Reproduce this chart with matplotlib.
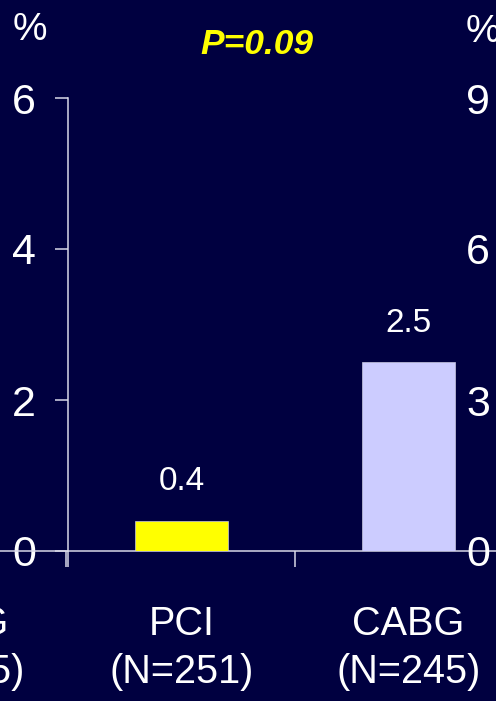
import matplotlib
matplotlib.use("Agg")
import matplotlib.pyplot as plt

# ---- data ----
groups = ["PCI", "CABG"]
group_n = ["(N=251)", "(N=245)"]
rates = [0.4, 2.5]
bar_colors = ["#FFFF00", "#CCCCFF"]
y_ticks = [0, 2, 4, 6]
right_ticks = [0, 3, 6, 9]
p_text = "P=0.09"
left_group = "CABG"
left_n = "(N=245)"

plt.rcParams["font.family"] = ["Liberation Sans", "DejaVu Sans"]

BG = "#000040"
FG = "white"
AX = "#D8D8E8"
LW = 1.1

W, H = 496, 701
fig = plt.figure(figsize=(W / 100, H / 100), dpi=100, facecolor=BG)


def px_axes(x0, x1, y_top, y_bot):
    return fig.add_axes([x0 / W, (H - y_bot) / H, (x1 - x0) / W, (y_bot - y_top) / H])


# ---- central panel ----
ax = px_axes(68, 522, 98, 551)
ax.set_facecolor("none")
ax.bar(range(len(rates)), rates, width=0.41, color=bar_colors, edgecolor="#C8C8E0", linewidth=0.5, zorder=3)
for i, v in enumerate(rates):
    ax.annotate(f"{v}", (i, v), xytext=(0, 17), textcoords="offset points",
                ha="center", va="bottom", color=FG, fontsize=24)
ax.set_xlim(-0.5, 1.5)
ax.set_ylim(0, 6)
ax.set_yticks(y_ticks)
ax.set_yticklabels([str(t) for t in y_ticks], color=FG, fontsize=31)
ax.set_xticks([0, 1])
ax.set_xticklabels([f"{g}\n{n}" for g, n in zip(groups, group_n)], color=FG, fontsize=28.5, linespacing=1.33)
ax.set_xticks([-0.5, 0.5, 1.5], minor=True)
ax.tick_params(axis="x", which="major", length=0, pad=39)
ax.tick_params(axis="x", which="minor", length=11.5, width=LW, color=AX)
ax.tick_params(axis="y", length=9.4, width=LW, color=AX, pad=13.5)
for s in ("top", "right"):
    ax.spines[s].set_visible(False)
for s in ("left", "bottom"):
    ax.spines[s].set_color(AX)
    ax.spines[s].set_linewidth(LW)
ax.text(-0.084, 1.15, "%", transform=ax.transAxes, color=FG, fontsize=28, ha="center", va="center")
ax.text(0.416, 1.117, p_text, transform=ax.transAxes, color="#FFFF00", fontsize=25.5,
        fontweight="bold", fontstyle="italic", ha="center", va="center")

# ---- neighbouring panel on the left (mostly out of frame) ----
axl = px_axes(66 - 454, 66, 98, 551)
axl.set_facecolor("none")
axl.set_xlim(-0.5, 1.5)
axl.set_ylim(0, 6)
axl.set_yticks([])
axl.set_xticks([1])
axl.set_xticklabels([f"{left_group}\n{left_n}"], color=FG, fontsize=28.5, linespacing=1.33)
axl.set_xticks([1.5], minor=True)
axl.tick_params(axis="x", which="major", length=0, pad=39)
axl.tick_params(axis="x", which="minor", length=11.5, width=LW, color=AX)
for s in ("top", "right", "left"):
    axl.spines[s].set_visible(False)
axl.spines["bottom"].set_color(AX)
axl.spines["bottom"].set_linewidth(LW)

# ---- neighbouring panel on the right (only its y labels show) ----
axr = px_axes(522, 976, 98, 551)
axr.set_facecolor("none")
axr.set_ylim(0, 9)
axr.set_xticks([])
axr.set_yticks(right_ticks)
axr.set_yticklabels([str(t) for t in right_ticks], color=FG, fontsize=31)
axr.tick_params(axis="y", length=9.4, width=LW, color=AX, pad=13.5)
for s in ("top", "right", "bottom", "left"):
    axr.spines[s].set_visible(False)
axr.text(-0.086, 1.145, "%", transform=axr.transAxes, color=FG, fontsize=28, ha="center", va="center")

fig.savefig("out.png", dpi=100, facecolor=BG)
